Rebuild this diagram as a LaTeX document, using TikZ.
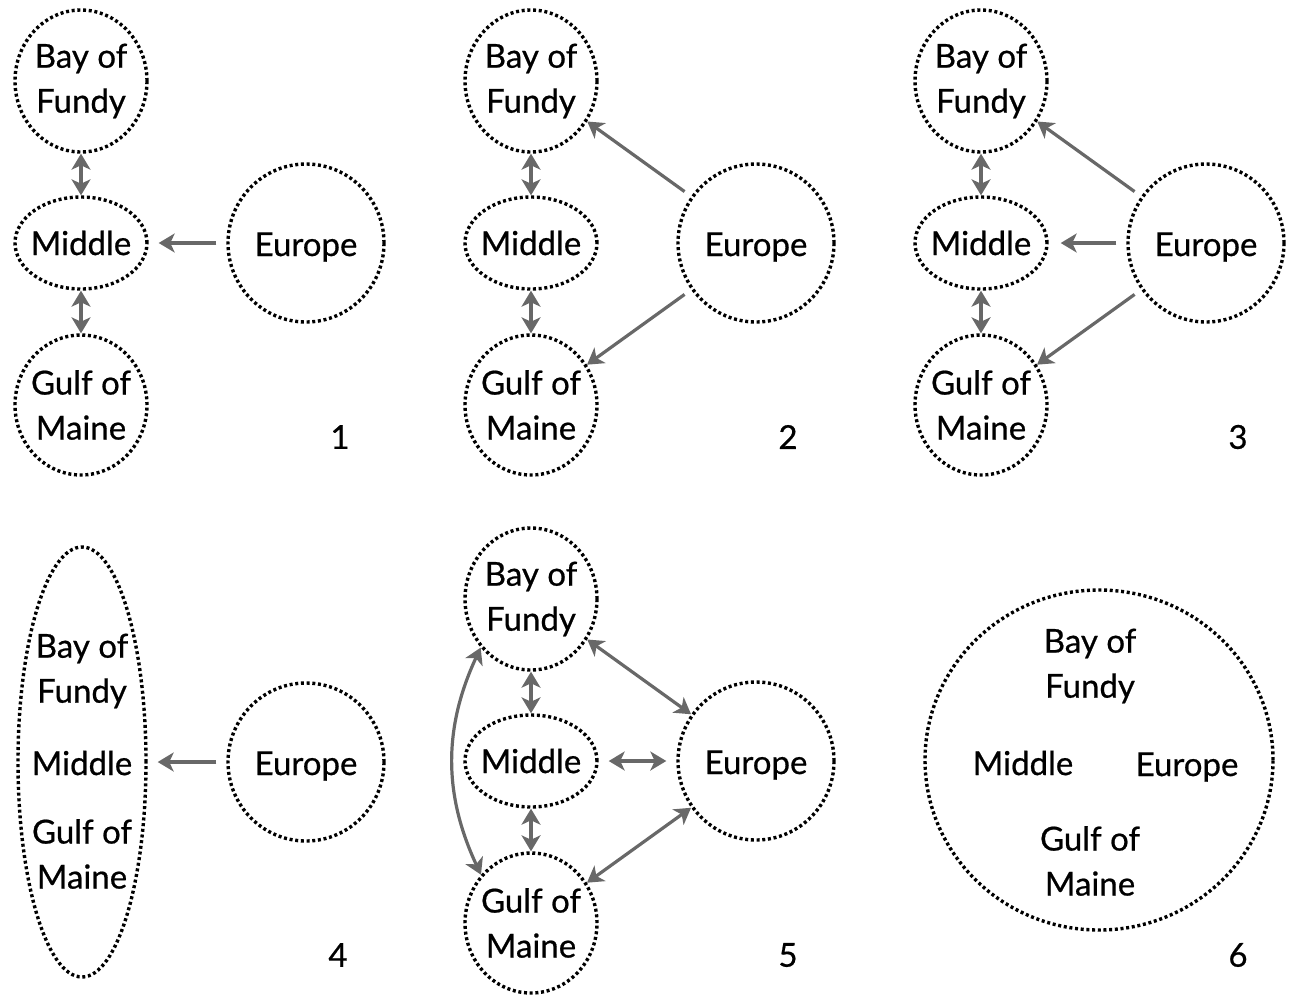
\documentclass[tikz,border=0pt]{standalone}
\usepackage{fontspec}
\setmainfont{Lato}
\newfontfamily\lblfont{Lato}[FakeBold=0.6]
\usetikzlibrary{shapes.geometric,arrows.meta}
\definecolor{arrowgray}{HTML}{686868}
\tikzset{
 region/.style={ellipse, draw=black, line width=3.4pt, dash pattern=on 3pt off 2.7pt, inner sep=0pt},
 txt/.style={font=\lblfont\fontsize{33}{45}\selectfont, align=center, inner sep=0pt, text=black},
 num/.style={font=\lblfont\fontsize{33}{40}\selectfont, inner sep=0pt, text=black},
 arr/.style={draw=arrowgray, line width=3.2pt, -{Stealth[length=16pt,width=19pt,inset=4.5pt]}},
 darr/.style={draw=arrowgray, line width=3.2pt, {Stealth[length=16pt,width=19pt,inset=4.5pt]}-{Stealth[length=16pt,width=19pt,inset=4.5pt]}},
 bayreg/.style={region, minimum width=132pt, minimum height=142pt, label={[txt]center:{Bay of\\Fundy}}},
 midreg/.style={region, minimum width=132pt, minimum height=92pt, label={[txt]center:Middle}},
 gulfreg/.style={region, minimum width=132pt, minimum height=140pt, label={[txt]center:{Gulf of\\Maine}}},
 eurreg/.style={region, minimum width=156pt, minimum height=158pt, label={[txt, yshift=-4pt]center:Europe}},
}
\newcommand\stdnodes[1]{%
 \node[bayreg] (b#1) at (81,81) {};
 \node[midreg] (m#1) at (81,243) {};
 \node[gulfreg] (g#1) at (81,405) {};
 \node[eurreg] (e#1) at (306,243) {};
}
\begin{document}
\begin{tikzpicture}[x=1pt,y=-1pt]
\useasboundingbox (0,0) rectangle (1289,994);
% panel 1
\begin{scope}
 \stdnodes{1}
 \node[num] (n1) at (340,437) {1};
 \draw[darr] (b1) -- (m1);
 \draw[darr] (m1) -- (g1);
 \draw[arr, shorten <=10pt, shorten >=10pt] (e1) -- (m1);
\end{scope}
% panel 2
\begin{scope}[shift={(450,0)}]
 \stdnodes{2}
 \node[num] (n2) at (338,437) {2};
 \draw[darr] (b2) -- (m2);
 \draw[darr] (m2) -- (g2);
 \draw[arr, shorten <=8pt] (e2) -- (b2);
 \draw[arr, shorten <=8pt] (e2) -- (g2);
\end{scope}
% panel 3
\begin{scope}[shift={(900,0)}]
 \stdnodes{3}
 \node[num] (n3) at (338,437) {3};
 \draw[darr] (b3) -- (m3);
 \draw[darr] (m3) -- (g3);
 \draw[arr, shorten <=8pt] (e3) -- (b3);
 \draw[arr, shorten <=8pt] (e3) -- (g3);
 \draw[arr, shorten <=10pt, shorten >=12pt] (e3) -- (m3);
\end{scope}
% panel 4
\node[region, minimum width=128pt, minimum height=430pt] (all4) at (82,762) {};
\node[txt] (t4b) at (82,671) {Bay of\\Fundy};
\node[txt] (t4m) at (82,763) {Middle};
\node[txt] (t4g) at (82,854) {Gulf of\\Maine};
\node[eurreg] (e4) at (306,762) {};
\node[num] (n4) at (338,955) {4};
\draw[arr, shorten <=10pt, shorten >=10pt] (e4) -- (all4);
% panel 5
\begin{scope}[shift={(450,518)}]
 \stdnodes{5}
 \node[num] (n5) at (338,437) {5};
 \draw[darr] (b5) -- (m5);
 \draw[darr] (m5) -- (g5);
 \draw[darr] (b5) -- (e5);
 \draw[darr] (e5) -- (g5);
 \draw[darr, shorten <=10pt, shorten >=10pt] (m5) -- (e5);
 \draw[darr] (b5.224) to[bend right=25] (g5.136);
\end{scope}
% panel 6
\node[region, minimum width=348pt, minimum height=340pt] (c6) at (1099,760) {};
\node[txt] (t6b) at (1090,666) {Bay of\\Fundy};
\node[txt] (t6m) at (1023,763) {Middle};
\node[txt, yshift=-4pt] (t6e) at (1187,763) {Europe};
\node[txt] (t6g) at (1090,861) {Gulf of\\Maine};
\node[num] (n6) at (1238,955) {6};
\end{tikzpicture}
\end{document}
